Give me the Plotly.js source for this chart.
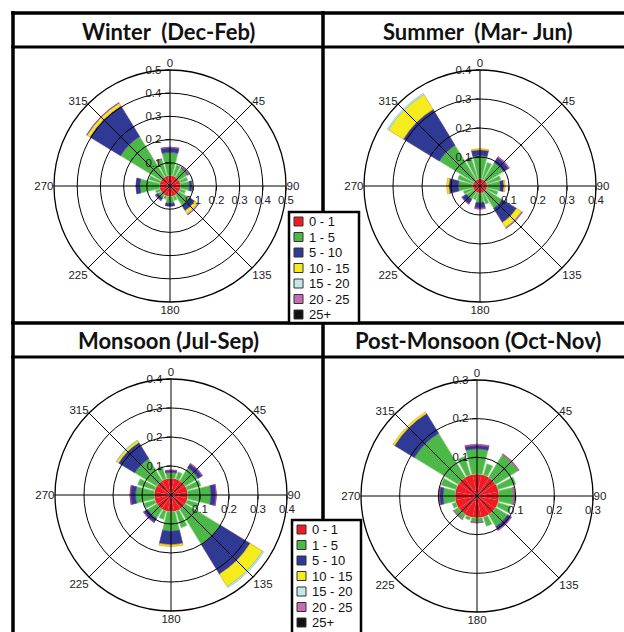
<!DOCTYPE html>
<html>
<head>
<meta charset="utf-8">
<script src="https://cdn.plot.ly/plotly-3.0.1.min.js"></script>
<style>html,body{margin:0;padding:0;background:#fff;overflow:hidden;}#chart{width:624px;height:632px;}</style>
</head>
<body>
<div id="chart"></div>
<script>
// ---- data ----
const directions = [0, 22.5, 45, 67.5, 90, 112.5, 135, 157.5, 180, 202.5, 225, 247.5, 270, 292.5, 315, 337.5];
const speedBins = ['0 - 1', '1 - 5', '5 - 10', '10 - 15', '15 - 20', '20 - 25', '25+'];
const angleTicks = [0, 45, 90, 135, 180, 225, 270, 315];
const angleTickLabels = ['0', '45', '90', '135', '180', '225', '270', '315'];

const seasonTitles = ['Winter\u00a0\u00a0(Dec-Feb)', 'Summer\u00a0\u00a0(Mar-\u00a0Jun)', 'Monsoon (Jul-Sep)', 'Post-Monsoon (Oct-Nov)'];
const radialMax = [0.5, 0.4, 0.4, 0.3];
const radialTicks = [
  [0.1, 0.2, 0.3, 0.4, 0.5],
  [0.1, 0.2, 0.3, 0.4],
  [0.1, 0.2, 0.3, 0.4],
  [0.1, 0.2, 0.3]
];

// frequency per speed bin, per direction (N, NNE, NE, ... NNW)
const winter_0_1   = [0.045,0.045,0.045,0.045,0.045,0.045,0.045,0.045,0.045,0.045,0.045,0.045,0.045,0.045,0.045,0.045];
const winter_1_5   = [0.100,0.050,0.045,0.035,0.040,0.025,0.055,0.020,0.030,0.015,0.015,0.020,0.085,0.050,0.205,0.075];
const winter_5_10  = [0.020,0,0.003,0,0.010,0,0.025,0,0.012,0,0.013,0,0.017,0,0.155,0];
const winter_10_15 = [0,0,0,0,0,0,0.015,0,0,0,0,0,0,0,0.013,0];
const winter_15_20 = [0,0,0,0,0,0,0.004,0,0,0,0,0,0,0,0.002,0];
const winter_20_25 = [0.003,0,0.003,0,0,0,0.002,0,0,0,0.002,0,0,0,0.002,0.003];
const winter_25    = [0,0,0,0,0,0,0,0,0,0,0,0,0,0,0,0];

const summer_0_1   = [0.025,0.025,0.025,0.025,0.025,0.025,0.025,0.025,0.025,0.025,0.025,0.025,0.025,0.025,0.025,0.025];
const summer_1_5   = [0.080,0.060,0.070,0.050,0.045,0.040,0.065,0.040,0.033,0.025,0.030,0.035,0.050,0.055,0.140,0.075];
const summer_5_10  = [0.020,0,0.020,0,0.013,0,0.058,0,0.018,0,0.017,0,0.033,0,0.145,0];
const summer_10_15 = [0.004,0,0,0,0.004,0,0.020,0,0,0,0,0,0.007,0,0.060,0];
const summer_15_20 = [0,0,0,0,0,0,0.002,0,0,0,0,0,0,0,0.005,0];
const summer_20_25 = [0,0,0.004,0,0,0,0.002,0,0.004,0,0.002,0,0,0,0,0.003];
const summer_25    = [0,0,0,0,0,0,0,0,0,0,0,0,0,0,0,0];

const monsoon_0_1   = [0.058,0.058,0.058,0.058,0.058,0.058,0.058,0.058,0.058,0.058,0.058,0.058,0.058,0.058,0.058,0.058];
const monsoon_1_5   = [0.020,0.025,0.052,0.050,0.080,0.040,0.142,0.060,0.067,0.030,0.037,0.040,0.064,0.062,0.089,0.045];
const monsoon_5_10  = [0.007,0,0.015,0,0.017,0,0.120,0,0.047,0,0.015,0,0.018,0,0.065,0];
const monsoon_10_15 = [0,0,0,0,0,0,0.050,0,0.006,0,0,0,0,0,0.008,0];
const monsoon_15_20 = [0,0,0,0,0,0,0.005,0,0,0,0,0,0,0,0.002,0];
const monsoon_20_25 = [0.002,0,0.003,0,0.002,0,0,0,0,0,0.002,0,0.002,0,0,0];
const monsoon_25    = [0,0,0,0,0,0,0,0,0,0,0,0,0,0,0,0];

const post_0_1   = [0.057,0.057,0.057,0.057,0.057,0.057,0.057,0.057,0.057,0.057,0.057,0.057,0.057,0.057,0.057,0.057];
const post_1_5   = [0.065,0.030,0.068,0.048,0.038,0.035,0.036,0.025,0.011,0.008,0.013,0.010,0.031,0.040,0.133,0.050];
const post_5_10  = [0.009,0,0,0,0,0,0.010,0,0,0,0,0,0.009,0,0.060,0];
const post_10_15 = [0,0,0,0,0,0,0,0,0,0,0,0,0,0,0.005,0];
const post_15_20 = [0,0,0,0,0,0,0,0,0,0,0,0,0,0,0,0];
const post_20_25 = [0.003,0,0.003,0,0.003,0,0.002,0,0.002,0,0.002,0,0.002,0,0,0];
const post_25    = [0,0,0,0,0,0,0,0,0,0,0,0,0,0,0,0];

const seasonData = [
  [winter_0_1, winter_1_5, winter_5_10, winter_10_15, winter_15_20, winter_20_25, winter_25],
  [summer_0_1, summer_1_5, summer_5_10, summer_10_15, summer_15_20, summer_20_25, summer_25],
  [monsoon_0_1, monsoon_1_5, monsoon_5_10, monsoon_10_15, monsoon_15_20, monsoon_20_25, monsoon_25],
  [post_0_1, post_1_5, post_5_10, post_10_15, post_15_20, post_20_25, post_25]
];

// ---- styles ----
const binColors = ['#ee1c25', '#4cb848', '#2e3a93', '#f4ec1c', '#c3e8e6', '#c56cb5', '#111111'];
const binLines  = ['#c41a1a', '#8acb84', '#5b3b8e', '#e2a12a', '#8cc6c4', '#a8418f', '#000000'];
const W = 624, H = 632;
const centers = [[170, 186], [480, 186], [171, 495], [477, 496]];
const R = 116;
const tickFont = {family: 'Liberation Sans, Arial, sans-serif', size: 11.5, color: '#222'};
const legendFont = {family: 'Liberation Sans, Arial, sans-serif', size: 13, color: '#111'};

function domainFor(c) {
  return {
    x: [(c[0] - R) / W, (c[0] + R) / W],
    y: [(H - (c[1] + R)) / H, (H - (c[1] - R)) / H]
  };
}

const traces = [];
const layout = {
  width: W, height: H,
  margin: {l: 0, r: 0, t: 0, b: 0, pad: 0, autoexpand: false},
  paper_bgcolor: '#ffffff',
  showlegend: false,
  annotations: [],
  shapes: []
};

seasonData.forEach((bins, s) => {
  const baseId = 'polar' + (s === 0 ? '' : (2 * s + 1));
  const overId = 'polar' + (2 * s + 2);
  const dom = domainFor(centers[s]);
  const rticks = radialTicks[s];
  const rtext = rticks.map(v => v.toFixed(1));

  layout[baseId] = {
    domain: dom, bgcolor: '#ffffff', barmode: 'stack', hole: 0,
    angularaxis: {
      rotation: 90, direction: 'clockwise',
      tickmode: 'array', tickvals: angleTicks, ticktext: angleTickLabels,
      showgrid: false, showline: false, ticks: '', showticklabels: true, tickfont: tickFont
    },
    radialaxis: {
      range: [0, radialMax[s]], angle: 90, side: 'counterclockwise', tickangle: 90,
      tickmode: 'array', tickvals: rticks, ticktext: rtext,
      showgrid: false, showline: false, ticks: 'outside', ticklen: 4, tickcolor: '#000',
      tickfont: tickFont, layer: 'above traces'
    }
  };
  layout[overId] = {
    domain: dom, bgcolor: 'rgba(0,0,0,0)', hole: 0,
    angularaxis: {
      rotation: 90, direction: 'clockwise',
      tickmode: 'array', tickvals: angleTicks, ticktext: angleTickLabels,
      showgrid: true, gridcolor: '#000', gridwidth: 1,
      showline: true, linecolor: '#000', linewidth: 1.3,
      ticks: '', showticklabels: false
    },
    radialaxis: {
      range: [0, radialMax[s]], angle: 0, side: 'clockwise',
      tickmode: 'array', tickvals: rticks, ticktext: rtext,
      showgrid: true, gridcolor: '#000', gridwidth: 1,
      showline: false, ticks: 'outside', ticklen: 4, tickcolor: '#000',
      tickfont: tickFont
    }
  };

  bins.forEach((vals, b) => {
    traces.push({
      type: 'barpolar',
      subplot: baseId,
      name: speedBins[b],
      r: vals.map(v => (v > 0 ? v : null)),
      theta: directions,
      width: directions.map((d, i) => (b === 0 ? 22.5 : (i % 2 === 0 ? 27 : 11))),
      marker: {color: binColors[b], line: {color: binLines[b], width: b === 0 ? 0 : 0.7}},
      showlegend: false,
      hoverinfo: 'name+r+theta'
    });
  });
  // empty trace so the overlay subplot (grid + east labels) is drawn
  traces.push({type: 'barpolar', subplot: overId, r: [], theta: [], showlegend: false, hoverinfo: 'skip'});
});

// ---- frame and title boxes ----
function px(x) { return x / W; }
function py(y) { return 1 - y / H; }
function line(x0, y0, x1, y1, w) {
  layout.shapes.push({type: 'line', xref: 'paper', yref: 'paper',
    x0: px(x0), y0: py(y0), x1: px(x1), y1: py(y1), line: {color: '#000', width: w}});
}
line(13, 11, 13, 640, 3.5);     // left border
line(11, 13, 630, 13, 3.5);     // top border
line(11, 47, 630, 47, 3);       // top title box bottom
line(323, 11, 323, 640, 3.5);   // middle vertical divider
line(11, 323, 630, 323, 3.5);   // row divider
line(11, 357, 630, 357, 3);     // bottom title box bottom

const titlePos = [[168, 31], [478, 31], [168, 340], [478, 340]];
seasonTitles.forEach((t, i) => {
  layout.annotations.push({
    xref: 'paper', yref: 'paper', x: px(titlePos[i][0]), y: py(titlePos[i][1]),
    xanchor: 'center', yanchor: 'middle', showarrow: false, text: '<b>' + t + '</b>',
    font: {family: 'Lato, Open Sans, sans-serif', size: 22, color: '#111'}
  });
});

// ---- speed legends (two boxes, as in the figure) ----
const legendBoxes = [[289, 212, 359, 323], [292, 520, 361, 645]];
legendBoxes.forEach(bx => {
  layout.shapes.push({type: 'rect', xref: 'paper', yref: 'paper',
    x0: px(bx[0]), y0: py(bx[1]), x1: px(bx[2]), y1: py(bx[3]),
    fillcolor: '#ffffff', line: {color: '#000', width: 2.5}});
  speedBins.forEach((lab, i) => {
    const yc = bx[1] + 9.5 + 15.5 * i;
    layout.shapes.push({type: 'rect', xref: 'paper', yref: 'paper',
      x0: px(bx[0] + 5), y0: py(yc - 4.5), x1: px(bx[0] + 14), y1: py(yc + 4.5),
      fillcolor: binColors[i], line: {color: '#333', width: 1}});
    layout.annotations.push({xref: 'paper', yref: 'paper', x: px(bx[0] + 18), y: py(yc),
      xanchor: 'left', yanchor: 'middle', showarrow: false, text: lab, font: legendFont});
  });
});

Plotly.newPlot('chart', traces, layout, {displayModeBar: false, staticPlot: true});
</script>
</body>
</html>
